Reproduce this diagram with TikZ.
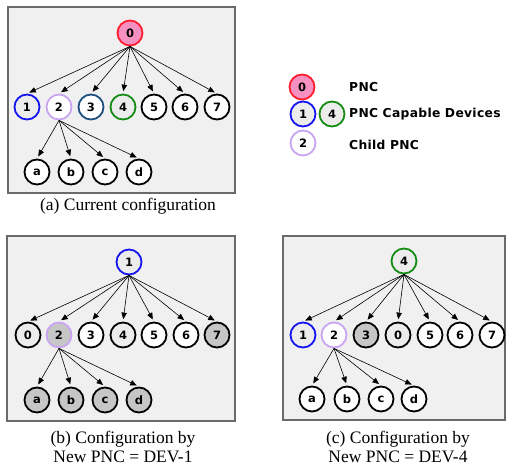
\documentclass[tikz,border=0pt]{standalone}
\usepackage{fontspec}
\setmainfont{Liberation Serif}
\newfontfamily\devfont{DejaVu Sans}
\newfontfamily\keyfont{DejaVu Sans}[LetterSpace=2.5]
\usetikzlibrary{arrows.meta}
\definecolor{panelbg}{HTML}{F0F0F0}
\definecolor{panelrim}{HTML}{6A6A6A}
\definecolor{pncred}{HTML}{FF1E2E}
\definecolor{pncpink}{HTML}{F590C0}
\definecolor{capblue}{HTML}{1414F0}
\definecolor{capgreen}{HTML}{148C14}
\definecolor{childlav}{HTML}{C9A4F2}
\definecolor{navyrim}{HTML}{1F4E80}
\definecolor{dimfill}{HTML}{C6C6C6}
\definecolor{speckle}{HTML}{ECECEC}
\tikzset{
  panel/.style={draw=panelrim, fill=panelbg, line width=1.2pt},
  dev/.style={circle, minimum size=25pt, inner sep=0pt, line width=1.8pt,
    draw=black, fill=white, font=\devfont\bfseries\fontsize{11.5}{12}\selectfont},
  speck/.style={fill=speckle},
  dim/.style={fill=dimfill},
  pnc/.style={draw=pncred, fill=pncpink},
  capA/.style={draw=capblue},
  capB/.style={draw=capgreen},
  child/.style={draw=childlav},
  navy/.style={draw=navyrim},
  arr/.style={-{Triangle[length=6.5pt,width=5.5pt]}, line width=0.6pt, shorten >=2.5pt},
  legend/.style={anchor=west, inner sep=0pt, font=\keyfont\bfseries\fontsize{12.3}{14}\selectfont},
  caption/.style={align=center, inner sep=0pt, font=\fontsize{17.5}{19.5}\selectfont}
}
\begin{document}
\begin{tikzpicture}[x=1pt,y=-1pt]
\useasboundingbox (0,0) rectangle (506,466);

% ---- (a) current configuration ----
\draw[panel] (8,7) rectangle (235,193);
\node[dev,pnc]        (a0) at (130,33)  {0};
\node[dev,speck,capA] (a1) at (27,107)  {1};
\node[dev,child]      (a2) at (59,107)  {2};
\node[dev,navy]       (a3) at (91,107)  {3};
\node[dev,speck,capB] (a4) at (123,107) {4};
\node[dev]            (a5) at (154,107) {5};
\node[dev]            (a6) at (185,107) {6};
\node[dev]            (a7) at (217,107) {7};
\node[dev]            (aa) at (37,172)  {a};
\node[dev]            (ab) at (71,172)  {b};
\node[dev]            (ac) at (105,172) {c};
\node[dev]            (ad) at (139,172) {d};
\foreach \k in {a1,a2,a3,a4,a5,a6,a7} \draw[arr] (a0.south) -- (\k.north);
\foreach \k in {aa,ab,ac,ad} \draw[arr] (a2.south) -- (\k.north);
\node[caption] (capa) at (128,206) {(a) Current configuration};

% ---- legend ----
\node[dev,pnc]        (l0) at (302,87)  {0};
\node[dev,speck,capA] (l1) at (303,114) {1};
\node[dev,speck,capB] (l4) at (332,114) {4};
\node[dev,child]      (l2) at (303,143) {2};
\node[legend] (t0) at (349,87)  {PNC};
\node[legend] (t1) at (349,114) {PNC Capable Devices};
\node[legend] (t2) at (349,145) {Child PNC};

% ---- (b) new PNC = DEV-1 ----
\draw[panel] (7,236) rectangle (235,421);
\node[dev,speck,capA] (b1) at (129,262) {1};
\node[dev,speck]      (b0) at (28,335)  {0};
\node[dev,dim,child]  (b2) at (59,335)  {2};
\node[dev]            (b3) at (91,335)  {3};
\node[dev,speck]      (b4) at (123,335) {4};
\node[dev]            (b5) at (154,335) {5};
\node[dev]            (b6) at (186,335) {6};
\node[dev,dim]        (b7) at (217,335) {7};
\node[dev,dim]        (ba) at (37,400)  {a};
\node[dev,dim]        (bb) at (71,400)  {b};
\node[dev,dim]        (bc) at (105,400) {c};
\node[dev,dim]        (bd) at (139,400) {d};
\foreach \k in {b0,b2,b3,b4,b5,b6,b7} \draw[arr] (b1.south) -- (\k.north);
\foreach \k in {ba,bb,bc,bd} \draw[arr] (b2.south) -- (\k.north);
\node[caption] (capb) at (123,447) {(b) Configuration by\\New PNC = DEV-1};

% ---- (c) new PNC = DEV-4 ----
\draw[panel] (283,236) rectangle (505,420);
\node[dev,speck,capB] (c4) at (404,261) {4};
\node[dev,speck,capA] (c1) at (303,335) {1};
\node[dev,child]      (c2) at (334,335) {2};
\node[dev,dim]        (c3) at (366,335) {3};
\node[dev,speck]      (c0) at (398,335) {0};
\node[dev]            (c5) at (430,335) {5};
\node[dev]            (c6) at (460,335) {6};
\node[dev]            (c7) at (492,335) {7};
\node[dev]            (ca) at (312,399) {a};
\node[dev]            (cb) at (347,399) {b};
\node[dev]            (cc) at (381,399) {c};
\node[dev]            (cd) at (414,399) {d};
\foreach \k in {c1,c2,c3,c0,c5,c6,c7} \draw[arr] (c4.south) -- (\k.north);
\foreach \k in {ca,cb,cc,cd} \draw[arr] (c2.south) -- (\k.north);
\node[caption] (capc) at (398,447) {(c) Configuration by\\New PNC = DEV-4};
\end{tikzpicture}
\end{document}
